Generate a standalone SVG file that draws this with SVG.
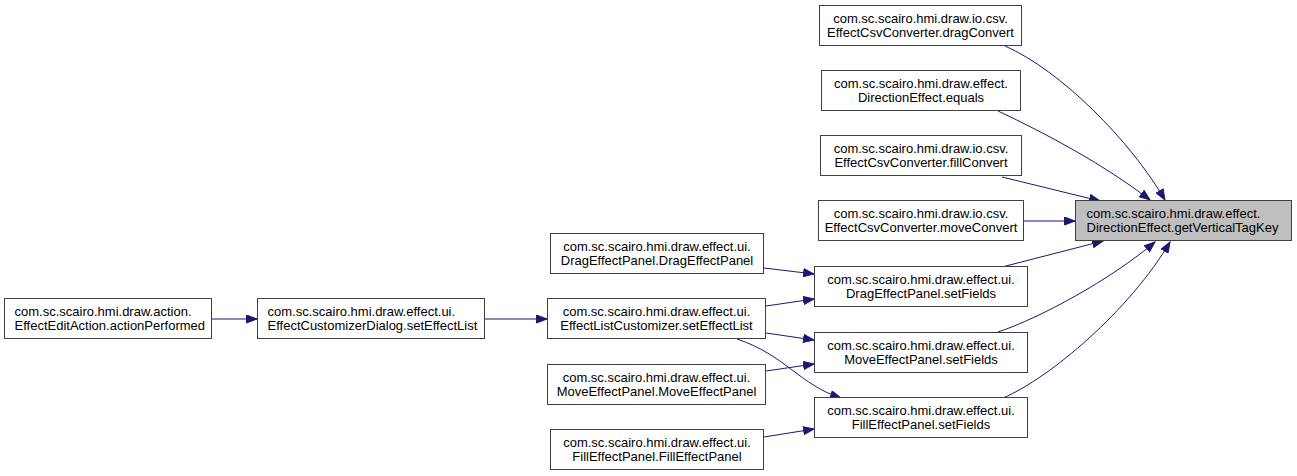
<svg xmlns="http://www.w3.org/2000/svg" width="1297" height="476" viewBox="0 0 1297 476">
<style>
.node rect{fill:#ffffff;stroke:#404040;stroke-width:1}
.node.hl rect{fill:#bfbfbf}
.node text{font-family:"Liberation Sans",Arial,sans-serif;font-size:13px;fill:#000000}
.c text{text-anchor:middle}
.edge path{fill:none;stroke:#191970;stroke-width:1;marker-end:url(#arr)}
</style>
<defs>
<marker id="arr" markerUnits="userSpaceOnUse" markerWidth="12" markerHeight="9" refX="11" refY="4.5" orient="auto" viewBox="0 0 12 9">
<path d="M0.5,0.5 L11,4.5 L0.5,8.5 z" fill="#191970" stroke="#191970" stroke-width="1"/>
</marker>
</defs>
<rect width="1297" height="476" fill="#ffffff"/>
<g id="edges" class="edge">
<path d="M212,319 L257,319"/>
<path d="M485,319 L547,319"/>
<path d="M764,268 L814,274"/>
<path d="M766,306 L814,299"/>
<path d="M766,333 L814,340"/>
<path d="M737,339 C785,355 800,385 841,398"/>
<path d="M766,371 L814,364"/>
<path d="M764,437 L814,429"/>
<path d="M1005,46 C1060,70 1130,140 1165,200"/>
<path d="M998,111 C1045,133 1105,165 1150,200"/>
<path d="M1002,177 L1100,201"/>
<path d="M1024,221 L1075,221"/>
<path d="M1002,267 L1103,241"/>
<path d="M998,332 C1040,318 1110,280 1155,242"/>
<path d="M1003,398 C1050,378 1130,310 1170,242"/>
</g>
<g id="n_dragConvert" class="node c"><rect x="819.5" y="5.5" width="202" height="40"/><text x="920.5" y="22.5">com.sc.scairo.hmi.draw.io.csv.</text><text x="920.5" y="36.5">EffectCsvConverter.dragConvert</text></g>
<g id="n_equals" class="node c"><rect x="821.5" y="70.5" width="199" height="40"/><text x="921" y="87.5">com.sc.scairo.hmi.draw.effect.</text><text x="921" y="101.5">DirectionEffect.equals</text></g>
<g id="n_fillConvert" class="node c"><rect x="820.5" y="135.5" width="201" height="40"/><text x="921" y="152.5">com.sc.scairo.hmi.draw.io.csv.</text><text x="921" y="166.5">EffectCsvConverter.fillConvert</text></g>
<g id="n_moveConvert" class="node c"><rect x="818.5" y="200.5" width="205" height="40"/><text x="921" y="217.5">com.sc.scairo.hmi.draw.io.csv.</text><text x="921" y="231.5">EffectCsvConverter.moveConvert</text></g>
<g id="n_getVerticalTagKey" class="node hl"><rect x="1075.5" y="200.5" width="216" height="40"/><text x="1086.5" y="217.5">com.sc.scairo.hmi.draw.effect.</text><text x="1086.5" y="231.5">DirectionEffect.getVerticalTagKey</text></g>
<g id="n_DragEffectPanel" class="node c"><rect x="550.5" y="233.5" width="213" height="40"/><text x="657" y="250.5">com.sc.scairo.hmi.draw.effect.ui.</text><text x="657" y="264.5">DragEffectPanel.DragEffectPanel</text></g>
<g id="n_DragSetFields" class="node c"><rect x="814.5" y="266.5" width="213" height="40"/><text x="921" y="283.5">com.sc.scairo.hmi.draw.effect.ui.</text><text x="921" y="297.5">DragEffectPanel.setFields</text></g>
<g id="n_EffectListCustomizer" class="node c"><rect x="547.5" y="298.5" width="218" height="40"/><text x="656.5" y="315.5">com.sc.scairo.hmi.draw.effect.ui.</text><text x="656.5" y="329.5">EffectListCustomizer.setEffectList</text></g>
<g id="n_MoveSetFields" class="node c"><rect x="814.5" y="332.5" width="213" height="40"/><text x="921" y="349.5">com.sc.scairo.hmi.draw.effect.ui.</text><text x="921" y="363.5">MoveEffectPanel.setFields</text></g>
<g id="n_MoveEffectPanel" class="node c"><rect x="547.5" y="364.5" width="218" height="40"/><text x="656.5" y="381.5">com.sc.scairo.hmi.draw.effect.ui.</text><text x="656.5" y="395.5">MoveEffectPanel.MoveEffectPanel</text></g>
<g id="n_FillSetFields" class="node c"><rect x="814.5" y="397.5" width="213" height="40"/><text x="921" y="414.5">com.sc.scairo.hmi.draw.effect.ui.</text><text x="921" y="428.5">FillEffectPanel.setFields</text></g>
<g id="n_FillEffectPanel" class="node c"><rect x="550.5" y="429.5" width="213" height="40"/><text x="657" y="446.5">com.sc.scairo.hmi.draw.effect.ui.</text><text x="657" y="460.5">FillEffectPanel.FillEffectPanel</text></g>
<g id="n_actionPerformed" class="node"><rect x="4.5" y="298.5" width="207" height="40"/><text x="14.5" y="315.5">com.sc.scairo.hmi.draw.action.</text><text x="14.5" y="329.5">EffectEditAction.actionPerformed</text></g>
<g id="n_EffectCustomizerDialog" class="node"><rect x="257.5" y="298.5" width="227" height="40"/><text x="267.5" y="315.5">com.sc.scairo.hmi.draw.effect.ui.</text><text x="267.5" y="329.5">EffectCustomizerDialog.setEffectList</text></g>
</svg>
